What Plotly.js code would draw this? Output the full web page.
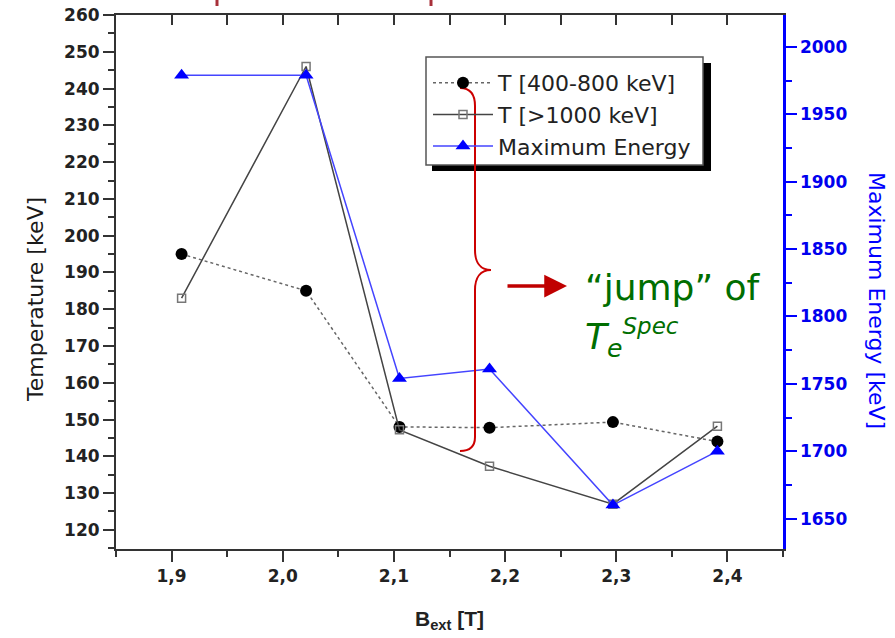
<!DOCTYPE html>
<html>
<head>
<meta charset="utf-8">
<script src="https://cdn.plot.ly/plotly-3.0.1.min.js"></script>
<style>html,body{margin:0;padding:0;background:#fff;}#chart{width:895px;height:638px;}</style>
</head>
<body>
<div id="chart"></div>
<script>
// ---- data ----
const bField = [1.909, 2.021, 2.105, 2.186, 2.297, 2.391];
const tempLow = [195, 185, 148, 147.8, 149.3, 144];      // T [400-800 keV]
const tempHigh = [183, 246, 147.2, 137.3, 127, 148.2];   // T [>1000 keV]
const maxEnergy = [1979, 1979, 1754, 1761, 1660, 1700];  // Maximum Energy
const seriesNames = ['T [400-800 keV]', 'T [>1000 keV]', 'Maximum Energy'];

// ---- layout helpers (pixel -> paper) ----
const W = 895, H = 638;
const M = {l: 116, r: 112, t: 15, b: 89};
const PW = W - M.l - M.r, PH = H - M.t - M.b;
const px = x => (x - M.l) / PW;
const py = y => (H - M.b - y) / PH;

const tickFont = {family: 'DejaVu Sans', size: 17, weight: 700, color: '#222'};

const traces = [
  {x: bField, y: tempLow, name: seriesNames[0], type: 'scatter', mode: 'lines+markers',
   line: {color: '#666', width: 1.5, dash: 'dot'},
   marker: {symbol: 'circle', size: 12, color: '#000'}},
  {x: bField, y: tempHigh, name: seriesNames[1], type: 'scatter', mode: 'lines+markers',
   line: {color: '#444', width: 1.5},
   marker: {symbol: 'square-open', size: 8, color: '#777', line: {width: 1.5, color: '#777'}}},
  {x: bField, y: maxEnergy, name: seriesNames[2], type: 'scatter', mode: 'lines+markers',
   yaxis: 'y2', line: {color: '#4444ff', width: 1.5},
   marker: {symbol: 'triangle-up', size: 13, color: '#0000ff'}},
  {x: [], y: [], xaxis: 'x2', showlegend: false, hoverinfo: 'skip'}
];

const bracePx = [[460,88],[470,88],[475,94],[475,106],[475,250],[475,262],[480,270],[491,270],
                 [480,270],[475,278],[475,290],[475,437],[475,447],[470,451],[460,451]];
function bracePath() {
  const p = bracePx.map(([x, y]) => [px(x), py(y)]);
  let d = `M${p[0][0]},${p[0][1]}`;
  d += ` C${p[1]} ${p[2]} ${p[3]}`;
  d += ` L${p[4]}`;
  d += ` C${p[5]} ${p[6]} ${p[7]}`;
  d += ` C${p[8]} ${p[9]} ${p[10]}`;
  d += ` L${p[11]}`;
  d += ` C${p[12]} ${p[13]} ${p[14]}`;
  return d;
}

const layout = {
  width: W, height: H,
  margin: M,
  paper_bgcolor: '#fff', plot_bgcolor: '#fff',
  separators: ',.',
  showlegend: true,
  xaxis: {
    range: [1.85, 2.45], dtick: 0.1, tick0: 1.9, tickformat: '.1f',
    showgrid: false, zeroline: false,
    showline: true, linecolor: '#333', linewidth: 2,
    ticks: 'outside', ticklen: 11, tickwidth: 2, tickcolor: '#333',
    minor: {dtick: 0.05, tick0: 1.85, ticks: 'outside', ticklen: 6, tickwidth: 2, tickcolor: '#333', showgrid: false},
    tickfont: tickFont
  },
  xaxis2: {
    overlaying: 'x', side: 'top', anchor: 'y',
    range: [1.85, 2.45], dtick: 0.05, tick0: 1.85,
    showgrid: false, zeroline: false, showticklabels: false,
    showline: true, linecolor: '#333', linewidth: 2,
    ticks: 'inside', ticklen: 10, tickwidth: 2, tickcolor: '#333'
  },
  yaxis: {
    range: [114.8, 260], dtick: 10, tick0: 120,
    showgrid: false, zeroline: false,
    showline: true, linecolor: '#333', linewidth: 2,
    ticks: 'outside', ticklen: 11, tickwidth: 2, tickcolor: '#333',
    minor: {dtick: 5, tick0: 115, ticks: 'outside', ticklen: 6, tickwidth: 2, tickcolor: '#333', showgrid: false},
    tickfont: tickFont
  },
  yaxis2: {
    overlaying: 'y', side: 'right', anchor: 'x',
    range: [1627.4, 2023.8], dtick: 50, tick0: 1650,
    showgrid: false, zeroline: false,
    showline: true, linecolor: '#0000ff', linewidth: 2.5,
    ticks: 'outside', ticklen: 11, tickwidth: 2, tickcolor: '#0000ff',
    minor: {dtick: 25, tick0: 1625, ticks: 'outside', ticklen: 6, tickwidth: 2, tickcolor: '#0000ff', showgrid: false},
    tickfont: Object.assign({}, tickFont, {color: '#0000ee'})
  },
  legend: {
    x: px(428), y: py(62), xanchor: 'left', yanchor: 'top',
    bgcolor: 'rgba(0,0,0,0)', borderwidth: 0, itemwidth: 60,
    font: {family: 'DejaVu Sans', size: 22, color: '#222'}
  },
  shapes: [
    {type: 'rect', xref: 'paper', yref: 'paper', x0: px(432), x1: px(711), y0: py(171), y1: py(63),
     fillcolor: '#000', line: {width: 0}},
    {type: 'rect', xref: 'paper', yref: 'paper', x0: px(426), x1: px(703), y0: py(165), y1: py(57),
     fillcolor: '#fff', line: {color: '#555', width: 1.5}},
    {type: 'path', xref: 'paper', yref: 'paper', path: bracePath(),
     line: {color: '#cc0000', width: 2}},
    {type: 'line', xref: 'paper', yref: 'paper', x0: px(217), x1: px(217), y0: py(0), y1: py(6),
     line: {color: '#a8303a', width: 3}},
    {type: 'line', xref: 'paper', yref: 'paper', x0: px(431), x1: px(431), y0: py(0), y1: py(6),
     line: {color: '#a8303a', width: 3}}
  ],
  annotations: [
    {text: 'Temperature [keV]', xref: 'paper', yref: 'paper', x: px(35), y: py(300),
     textangle: -90, showarrow: false, xanchor: 'center', yanchor: 'middle',
     font: {family: 'DejaVu Sans', size: 22, color: '#1a1a1a'}},
    {text: 'Maximum Energy [keV]', xref: 'paper', yref: 'paper', x: px(877), y: py(300),
     textangle: 90, showarrow: false, xanchor: 'center', yanchor: 'middle',
     font: {family: 'DejaVu Sans', size: 22, color: '#0000ff'}},
    {text: 'B<sub>ext</sub> [T]', xref: 'paper', yref: 'paper', x: px(449), y: py(620),
     showarrow: false, xanchor: 'center', yanchor: 'middle',
     font: {family: 'Liberation Sans', size: 21, weight: 700, color: '#222'}},
    {text: '', xref: 'paper', yref: 'paper', x: px(567), y: py(286),
     showarrow: true, ax: -61, ay: 0, arrowhead: 2, arrowsize: 1.3, arrowwidth: 3.5, arrowcolor: '#c00000'},
    {text: '“jump” of', xref: 'paper', yref: 'paper', x: px(583), y: py(287),
     showarrow: false, xanchor: 'left', yanchor: 'middle',
     font: {family: 'DejaVu Sans', size: 36, color: '#006e00'}},
    {text: '<i>T</i><sub><i>e</i></sub><sup><i><span style="font-size:23px">Spec</span></i></sup>', xref: 'paper', yref: 'paper', x: px(583), y: py(338),
     showarrow: false, xanchor: 'left', yanchor: 'middle',
     font: {family: 'DejaVu Sans', size: 36, color: '#006e00'}}
  ]
};

Plotly.newPlot('chart', traces, layout, {displayModeBar: false, staticPlot: true});
</script>
</body>
</html>
